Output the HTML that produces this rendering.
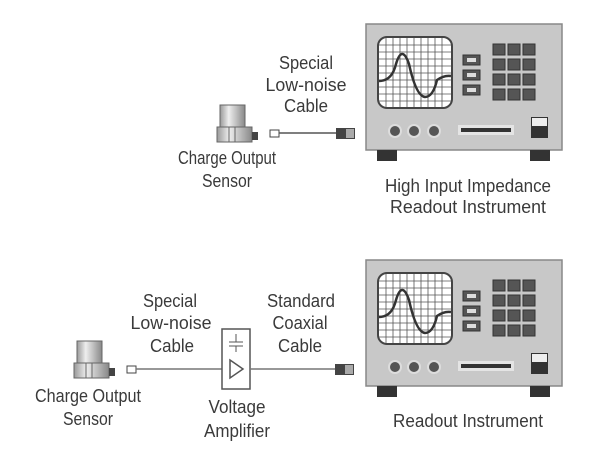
<!DOCTYPE html>
<html><head><style>
body{margin:0;background:#fff;}
svg text{font-family:"Liberation Sans",sans-serif;font-size:18px;fill:#3a3a3a;text-anchor:middle;}
</style></head><body>
<svg width="600" height="461" viewBox="0 0 600 461" xmlns="http://www.w3.org/2000/svg">
<defs>
<linearGradient id="cyl" x1="0" x2="1"><stop offset="0" stop-color="#999"/><stop offset="0.35" stop-color="#eee"/><stop offset="1" stop-color="#888"/></linearGradient>
<g id="inst">
<rect x="366" y="24" width="196" height="126" fill="#c8c8c8" stroke="#888" stroke-width="1.5"/>
<rect x="377" y="150" width="20" height="11" fill="#333"/>
<rect x="530" y="150" width="20" height="11" fill="#333"/>
<rect x="378" y="37" width="74" height="71" rx="9" fill="#fff" stroke="#444" stroke-width="2"/>
<g stroke="#555" stroke-width="0.8">
<path d="M386 38V107M393 38V107M400 38V107M407 38V107M414 38V107M421 38V107M428 38V107M435 38V107M442 38V107"/>
<path d="M379 45H451M379 52H451M379 59H451M379 66H451M379 73H451M379 80H451M379 87H451M379 94H451M379 101H451"/>
</g>
<path d="M379 81 Q392 81 396 64 Q402 44 409 64 Q416 96 425 97 Q433 97 437 80 Q444 75 451 76" fill="none" stroke="#333" stroke-width="2.5"/>
<g fill="#555" stroke="#333"><rect x="463" y="55" width="17" height="10"/><rect x="463" y="70" width="17" height="10"/><rect x="463" y="85" width="17" height="10"/></g>
<g fill="#ddd"><rect x="467" y="58" width="9" height="4"/><rect x="467" y="73" width="9" height="4"/><rect x="467" y="88" width="9" height="4"/></g>
<g fill="#555" stroke="#333">
<rect x="493" y="44" width="12" height="11"/><rect x="508" y="44" width="12" height="11"/><rect x="523" y="44" width="12" height="11"/>
<rect x="493" y="59" width="12" height="11"/><rect x="508" y="59" width="12" height="11"/><rect x="523" y="59" width="12" height="11"/>
<rect x="493" y="74" width="12" height="11"/><rect x="508" y="74" width="12" height="11"/><rect x="523" y="74" width="12" height="11"/>
<rect x="493" y="89" width="12" height="11"/><rect x="508" y="89" width="12" height="11"/><rect x="523" y="89" width="12" height="11"/>
</g>
<g fill="#555" stroke="#ddd" stroke-width="2"><circle cx="395" cy="131" r="6"/><circle cx="414" cy="131" r="6"/><circle cx="434" cy="131" r="6"/></g>
<rect x="458" y="125" width="56" height="10" fill="#e4e4e4"/>
<rect x="461" y="128" width="50" height="4" fill="#333"/>
<rect x="531" y="117" width="17" height="21" fill="#333"/>
<rect x="532" y="118" width="15" height="8" fill="#eee"/>
</g>
<g id="sens">
<rect x="220" y="105" width="25" height="23" fill="url(#cyl)" stroke="#666"/>
<rect x="217" y="127" width="35" height="15" fill="url(#cyl)" stroke="#666"/>
<path d="M229 127V142M235 127V142" stroke="#666"/>
<rect x="252" y="132" width="6" height="8" fill="#444"/>
</g>
</defs>
<use href="#inst"/>
<use href="#inst" transform="translate(0,236)"/>
<use href="#sens"/>
<use href="#sens" transform="translate(-143,236)"/>
<rect x="270" y="130" width="9" height="7" fill="#fff" stroke="#444"/>
<line x1="279" y1="133" x2="336" y2="133" stroke="#555" stroke-width="1.5"/>
<rect x="336" y="128" width="19" height="11" fill="#444"/>
<rect x="346" y="129" width="8" height="9" fill="#aaa"/>
<rect x="127" y="366" width="9" height="7" fill="#fff" stroke="#444"/>
<line x1="136" y1="369" x2="222" y2="369" stroke="#777" stroke-width="1.5"/>
<rect x="222" y="329" width="28" height="60" fill="#fff" stroke="#555" stroke-width="1.5"/>
<path d="M236 334V342M229 342H243M229 346H243M236 346V352" stroke="#555" fill="none"/>
<path d="M230 360L243 369L230 378Z" fill="none" stroke="#555" stroke-width="1.5"/>
<line x1="250" y1="369" x2="335" y2="369" stroke="#777" stroke-width="1.5"/>
<rect x="335" y="364" width="19" height="11" fill="#444"/>
<rect x="345" y="365" width="8" height="9" fill="#aaa"/>
<text x="306" y="69" textLength="54" lengthAdjust="spacingAndGlyphs">Special</text>
<text x="306" y="91" textLength="81" lengthAdjust="spacingAndGlyphs">Low-noise</text>
<text x="306" y="112" textLength="44" lengthAdjust="spacingAndGlyphs">Cable</text>
<text x="227" y="164" textLength="98" lengthAdjust="spacingAndGlyphs">Charge Output</text>
<text x="227" y="187" textLength="50" lengthAdjust="spacingAndGlyphs">Sensor</text>
<text x="468" y="192" textLength="166" lengthAdjust="spacingAndGlyphs">High Input Impedance</text>
<text x="468" y="213" textLength="156" lengthAdjust="spacingAndGlyphs">Readout Instrument</text>
<text x="170" y="307" textLength="54" lengthAdjust="spacingAndGlyphs">Special</text>
<text x="171" y="329" textLength="81" lengthAdjust="spacingAndGlyphs">Low-noise</text>
<text x="172" y="352" textLength="44" lengthAdjust="spacingAndGlyphs">Cable</text>
<text x="301" y="307" textLength="68" lengthAdjust="spacingAndGlyphs">Standard</text>
<text x="300" y="329" textLength="55" lengthAdjust="spacingAndGlyphs">Coaxial</text>
<text x="300" y="352" textLength="44" lengthAdjust="spacingAndGlyphs">Cable</text>
<text x="88" y="402" textLength="106" lengthAdjust="spacingAndGlyphs">Charge Output</text>
<text x="88" y="425" textLength="50" lengthAdjust="spacingAndGlyphs">Sensor</text>
<text x="237" y="413" textLength="57" lengthAdjust="spacingAndGlyphs">Voltage</text>
<text x="237" y="437" textLength="66" lengthAdjust="spacingAndGlyphs">Amplifier</text>
<text x="468" y="427" textLength="150" lengthAdjust="spacingAndGlyphs">Readout Instrument</text>
</svg>
</body></html>
